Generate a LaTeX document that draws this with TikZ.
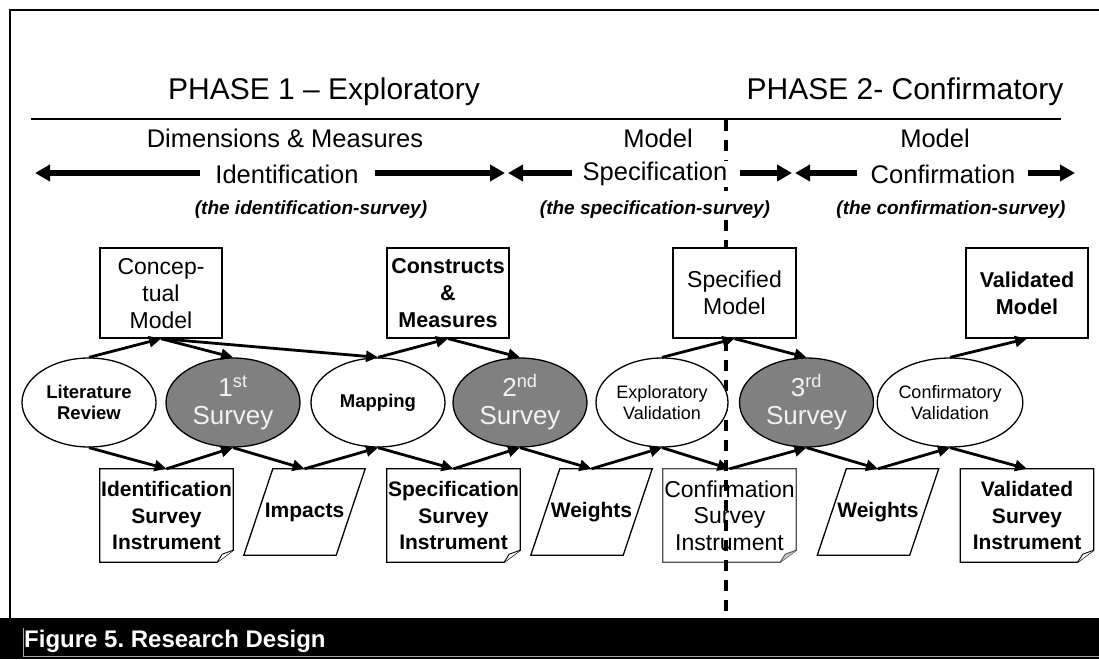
\documentclass[tikz,border=0pt]{standalone}
\usepackage{fontspec}
\setmainfont{Liberation Sans}
\usetikzlibrary{shapes.geometric,arrows.meta,calc,backgrounds}
\frenchspacing
\newcommand\myfs[2]{\fontsize{#1}{#2}\selectfont}
\newcommand\lowertext[2]{\raisebox{-#1}[\height][\depth]{\begin{tabular}{@{}c@{}}#2\end{tabular}}}
\definecolor{survgray}{HTML}{808080}
\definecolor{survtext}{HTML}{F2F2F2}
\definecolor{confgray}{HTML}{505050}
\definecolor{flapgray}{HTML}{C8C8C8}
\begin{document}
\begin{tikzpicture}[x=1pt,y=-1pt,
  box/.style={draw, fill=white, line width=1.3pt, minimum width=122pt, minimum height=90pt, inner sep=0pt, align=center, font=\myfs{23}{27}},
  boldbox/.style={box, font=\myfs{21.5}{27}\bfseries},
  ell/.style={draw, ellipse, line width=1.3pt, fill=white, minimum width=134pt, minimum height=89pt, inner sep=0pt, align=center, font=\myfs{18}{21}},
  boldell/.style={ell, font=\myfs{18.5}{21.5}\bfseries},
  survey/.style={ell, fill=survgray, text=survtext, font=\myfs{26}{28}},
  docnode/.style={minimum width=133pt, minimum height=93pt, inner sep=0pt, align=center, font=\myfs{21}{26.5}\bfseries},
  paranode/.style={minimum width=121pt, minimum height=86pt, inner sep=0pt, align=center, font=\myfs{21}{24}\bfseries},
  flow/.style={line width=2.8pt, -{Triangle[length=12pt,width=11pt]}},
  big/.style={line width=5.5pt, -{Triangle[length=15pt,width=16pt]}},
  hdr/.style={font=\myfs{25.5}{29}, inner sep=1pt, fill=white},
  sub/.style={font=\myfs{19}{22}\bfseries\itshape, inner sep=1pt, fill=white},
  phase/.style={font=\myfs{30}{34}, inner sep=0pt},
]
\useasboundingbox (0,0) rectangle (1099,659);

% frame and caption band
\draw[line width=1.6pt] (10,618) -- (10,10) -- (1099,10);
\fill[black] (0,618) rectangle (1099,659);
\draw[gray!70, line width=0.8pt] (23,628) -- (23,656) -- (1099,656);
\node[anchor=west, text=white, font=\myfs{24}{28}\bfseries, inner sep=0pt] (cap) at (24,641) {Figure 5. Research Design};

% phases
\node[phase] (ph1) at (324,92) {PHASE 1 – Exploratory};
\node[phase] (ph2) at (905,92) {PHASE 2- Confirmatory};
\coordinate (rl) at (31,119);
\coordinate (rr) at (1061,119);
\draw[line width=1.3pt] (rl) -- (rr);

% dashed phase divider
\coordinate (dt) at (726,120);
\coordinate (db) at (726,617);
\draw[line width=3.5pt, dash pattern=on 11pt off 9pt] (dt) -- (db);

% header stages
\node[hdr] (h1a) at (285,138) {Dimensions \& Measures};
\node[hdr] (h1b) at (287,174) {Identification};
\node[sub] (h1c) at (311,210) {(the identification-survey)};
\node[hdr] (h2a) at (658,138) {Model};
\node[hdr] (h2b) at (655,174) {Specification};
\node[sub] (h2c) at (655,210) {(the specification-survey)};
\node[hdr] (h3a) at (935,138) {Model};
\node[hdr] (h3b) at (943,174) {Confirmation};
\node[sub] (h3c) at (951,210) {(the confirmation-survey)};

\coordinate (a1s) at (200,173); \coordinate (a1e) at (35,173);
\coordinate (a2s) at (375,173); \coordinate (a2e) at (505,173);
\coordinate (a3s) at (572,173); \coordinate (a3e) at (508,173);
\coordinate (a4s) at (740,173); \coordinate (a4e) at (792,173);
\coordinate (a5s) at (857,173); \coordinate (a5e) at (795,173);
\coordinate (a6s) at (1028,173); \coordinate (a6e) at (1075,173);
\foreach \s/\e in {a1s/a1e,a2s/a2e,a3s/a3e,a4s/a4e,a5s/a5e,a6s/a6e}
  \draw[big] (\s) -- (\e);

% top boxes
\node[box] (cm) at (161,293) {\lowertext{3.5pt}{Concep-\\tual\\Model}};
\node[boldbox] (cons) at (448,293) {Constructs\\\&\\Measures};
\node[box, minimum width=123pt] (spm) at (734.5,293) {Specified\\Model};
\node[boldbox] (vm) at (1027,293) {Validated\\Model};

% ellipses
\node[boldell] (lit) at (89,402.5) {Literature\\Review};
\node[survey] (s1) at (233,402.5) {1\textsuperscript{st}\\Survey};
\node[boldell] (map) at (378,402.5) {Mapping};
\node[survey] (s2) at (520,402.5) {2\textsuperscript{nd}\\Survey};
\node[ell, minimum width=132pt] (ev) at (662,402.5) {Exploratory\\Validation};
\node[survey] (s3) at (806.5,402.5) {3\textsuperscript{rd}\\Survey};
\node[ell] (cv) at (950,402.5) {Confirmatory\\Validation};

% bottom row: documents
\node[docnode] (isi) at (166.5,515.5) {Identification\\Survey\\Instrument};
\node[docnode] (ssi) at (453.5,515.5) {Specification\\Survey\\Instrument};
\node[docnode, font=\myfs{23}{26.5}] (csi) at (729.5,515.5) {Confirmation\\Survey\\Instrument};
\node[docnode] (vsi) at (1027,515.5) {Validated\\Survey\\Instrument};
% bottom row: data
\node[paranode] (imp) at (304.5,512) {Impacts};
\node[paranode] (w1) at (591.5,512) {Weights};
\node[paranode] (w2) at (878,512) {Weights};

\begin{scope}[on background layer]
  \foreach \d/\c/\f in {isi/black/white, ssi/black/white, csi/confgray/flapgray, vsi/black/white}{
    \draw[\c, line width=1.3pt, fill=white] (\d.north west) -- (\d.north east) -- ($(\d.south east)+(0,-12)$) -- ($(\d.south east)+(-16,0)$) -- (\d.south west) -- cycle;
    \draw[\c, line width=0.9pt, fill=\f] ($(\d.south east)+(0,-12)$) -- ($(\d.south east)+(-11,-8)$) -- ($(\d.south east)+(-16,0)$);
  }
  \foreach \p in {imp,w1,w2}
    \draw[line width=1.3pt, fill=white] ($(\p.north west)+(29,0)$) -- (\p.north east) -- ($(\p.south east)+(-29,0)$) -- (\p.south west) -- cycle;
\end{scope}

% flow arrows, upper
\draw[flow] (lit.north) -- (cm.south);
\draw[flow] (cm.south) -- (s1.north);
\draw[flow] (cm.south) -- (map.north);
\draw[flow] (map.north) -- (cons.south);
\draw[flow] (cons.south) -- (s2.north);
\draw[flow] (ev.north) -- (spm.south);
\draw[flow] (spm.south) -- (s3.north);
\draw[flow] (cv.north) -- (vm.south);
% flow arrows, lower
\draw[flow] (lit.south) -- (isi.north);
\draw[flow] (isi.north) -- (s1.south);
\draw[flow] (s1.south) -- (imp.north);
\draw[flow] (imp.north) -- (map.south);
\draw[flow] (map.south) -- (ssi.north);
\draw[flow] (ssi.north) -- (s2.south);
\draw[flow] (s2.south) -- (w1.north);
\draw[flow] (w1.north) -- (ev.south);
\draw[flow] (ev.south) -- (csi.north);
\draw[flow] (csi.north) -- (s3.south);
\draw[flow] (s3.south) -- (w2.north);
\draw[flow] (w2.north) -- (cv.south);
\draw[flow] (cv.south) -- (vsi.north);
\end{tikzpicture}
\end{document}
